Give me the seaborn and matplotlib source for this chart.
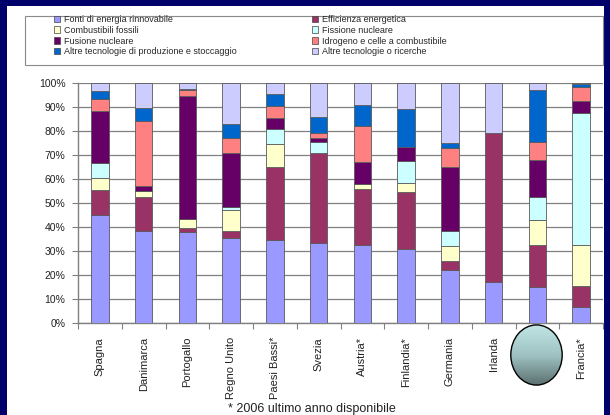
import numpy as np
import pandas as pd
import matplotlib
matplotlib.use("Agg")
import matplotlib.pyplot as plt
import seaborn as sns
from matplotlib.patches import Rectangle, Ellipse
from matplotlib.colors import LinearSegmentedColormap

# Countries (x categories)
paesi = ["Spagna", "Danimarca", "Portogallo", "Regno Unito", "Paesi Bassi*", "Svezia",
         "Austria*", "Finlandia*", "Germania", "Irlanda", "Italia", "Francia*"]

# Share of public R&D spending by technology (% of total, stacked bottom to top)
rinnovabili = [45, 38.5, 38, 35.5, 34.5, 33.5, 32.5, 31, 22, 17, 15, 6.5]
efficienza = [10.5, 14, 1.5, 3, 30.5, 37.5, 23.5, 23.5, 4, 62, 17.5, 9]
fossili = [5, 2.5, 4, 8.5, 9.5, 0, 2, 4, 6, 0, 10.5, 17]
fissione = [6, 0, 0, 1.5, 6.5, 4.5, 0, 9, 6.5, 0, 9.5, 55]
fusione = [22, 2, 51, 22.5, 4.5, 1.5, 9, 6, 26.5, 0, 15.5, 5]
idrogeno = [5, 27, 2.5, 6, 5, 2, 15, 0, 8, 0, 7.5, 6]
altre_produzione = [3, 5.5, 0.5, 6, 5, 7, 9, 15.5, 2, 0, 21.5, 1]
altre_ricerche = [3.5, 10.5, 2.5, 17, 4.5, 14, 9, 11, 25, 21, 3, 0.5]

serie = ["Fonti di energia rinnovabile", "Efficienza energetica", "Combustibili fossili",
         "Fissione nucleare", "Fusione nucleare", "Idrogeno e celle a combustibile",
         "Altre tecnologie di produzione e stoccaggio", "Altre tecnologie o ricerche"]
valori = [rinnovabili, efficienza, fossili, fissione, fusione, idrogeno,
          altre_produzione, altre_ricerche]
colori = ["#9999FF", "#993366", "#FFFFCC", "#CCFFFF", "#660066", "#FF8080",
          "#0066CC", "#CCCCFF"]

nota = "* 2006 ultimo anno disponibile"

sns.set_theme(style="white")
plt.rcParams["font.family"] = ["Liberation Sans", "DejaVu Sans"]

W, H = 610, 415
fig = plt.figure(figsize=(W / 100, H / 100), dpi=100, facecolor="#00006b")

# white slide panel
fig.patches.append(Rectangle((7 / W, 0), 597 / W, 409 / H, transform=fig.transFigure,
                             facecolor="white", edgecolor="none", zorder=-5))

ax = fig.add_axes([78 / W, 1 - 323 / H, 525 / W, 240 / H])
ax.set_facecolor("white")

df = pd.DataFrame({"paese": paesi})
base = np.zeros(len(paesi))
for nome, col, vals in zip(serie, colori, valori):
    df[nome] = vals
    sns.barplot(data=df, x="paese", y=nome, color=col, saturation=1, width=0.4,
                bottom=base.copy(), edgecolor="#5a5a5a", linewidth=0.6,
                errorbar=None, ax=ax, zorder=3)
    base += np.asarray(vals, dtype=float)

ax.set_ylim(0, 100)
ax.set_xlim(-0.5, len(paesi) - 0.5)
yt = np.arange(0, 101, 10)
ax.set_yticks(yt)
ax.set_yticklabels([f"{v}%" for v in yt], fontsize=7.5, color="#222222")
ax.set_xticks(range(len(paesi)))
ax.set_xticklabels(paesi, rotation=90, fontsize=8, color="#222222")
ax.set_xticks(np.arange(-0.5, len(paesi)), minor=True)
ax.tick_params(axis="x", which="major", length=0, pad=10)
ax.tick_params(axis="x", which="minor", length=4, width=0.8, color="#808080",
               direction="out", bottom=True)
ax.tick_params(axis="y", which="major", length=4, width=0.8, color="#808080",
               direction="out", left=True, pad=5)
ax.set_xlabel("")
ax.set_ylabel("")
ax.yaxis.grid(True, color="#808080", linewidth=0.9, zorder=0)
ax.xaxis.grid(False)
ax.set_axisbelow(True)
for s in ("top", "right"):
    ax.spines[s].set_visible(False)
for s in ("left", "bottom"):
    ax.spines[s].set_color("#808080")
    ax.spines[s].set_linewidth(1)

# legend: two columns, row-major order, inside a framed box
handles = [Rectangle((0, 0), 1, 1, facecolor=c, edgecolor="#444444", linewidth=0.5)
           for c in colori]
leg_kw = dict(loc="upper left", frameon=False, fontsize=6.5, handlelength=0.7,
              handleheight=0.7, handletextpad=0.4, labelspacing=0.2,
              borderpad=0, borderaxespad=0)
for start, x0 in ((0, 54), (1, 312)):
    idx = list(range(start, len(serie), 2))
    fig.legend([handles[i] for i in idx], [serie[i] for i in idx],
               bbox_to_anchor=(x0 / W, 1 - 15 / H), **leg_kw)
fig.patches.append(Rectangle((25 / W, 1 - 65 / H), 578 / W, 49 / H,
                             transform=fig.transFigure, fill=False,
                             edgecolor="#8a8a8a", linewidth=0.8, zorder=2))

fig.text(312 / W, 1 - 403 / H, nota, ha="center", va="top", fontsize=9,
         color="#222222")

# shaded oval shape over the lower right
ax_e = fig.add_axes([510 / W, 1 - 386 / H, 53 / W, 62 / H])
ax_e.axis("off")
ax_e.set_zorder(5)
grad = np.linspace(0, 1, 256)[:, None]
cmap = LinearSegmentedColormap.from_list("oval", ["#c2e6e6", "#9fc3c3", "#5a6d6d"])
im = ax_e.imshow(grad, aspect="auto", cmap=cmap, extent=[0, 1, 0, 1])
ell = Ellipse((0.5, 0.5), 0.97, 0.97, transform=ax_e.transAxes, facecolor="none",
              edgecolor="black", linewidth=1)
ax_e.add_patch(ell)
ell.set_clip_on(False)
im.set_clip_path(ell)

fig.savefig("out.png", dpi=100, facecolor=fig.get_facecolor())
